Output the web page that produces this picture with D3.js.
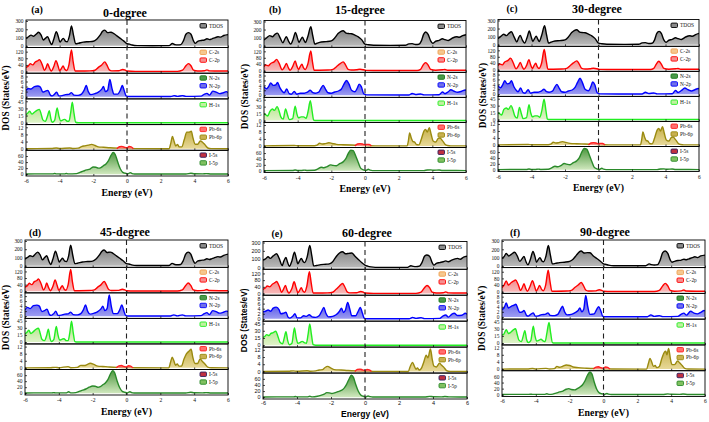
<!DOCTYPE html>
<html><head><meta charset="utf-8">
<script src="https://cdn.jsdelivr.net/npm/d3@7"></script>
<style>body{margin:0;background:#fff}svg{display:block}</style>
</head><body><svg id="c" width="709" height="422"></svg>
<script>
// ---------------- DATA (energy eV, DOS) ----------------
const panelTitles = ["0-degree","15-degree","30-degree","45-degree","60-degree","90-degree"];
const panelLetters = ["(a)","(b)","(c)","(d)","(e)","(f)"];
const energyTicks = [-6,-4,-2,0,2,4,6];
const tdosTicks = [0,100,200,300];
const cTicks = [0,40,80,120];
const nTicks = [0,2,4,6,8];
const hTicks = [0,15,30,45];
const pbTicks = [0,4,8,12];
const iTicks = [0,20,40,60];
const legendTDOS = ["TDOS"];
const legendC = ["C-2s","C-2p"];
const legendN = ["N-2s","N-2p"];
const legendH = ["H-1s"];
const legendPb = ["Pb-6s","Pb-6p"];
const legendI = ["I-5s","I-5p"];

// (a) 0-degree
const tdos_a = [[-6,90],[-5.85,110],[-5.7,130],[-5.55,115],[-5.4,140],[-5.25,165],[-5.1,130],[-4.97,70],[-4.85,90],[-4.72,110],[-4.58,50],[-4.48,15],[-4.35,80],[-4.2,170],[-4.08,110],[-3.98,45],[-3.88,70],[-3.78,90],[-3.65,55],[-3.55,50],[-3.42,120],[-3.3,240],[-3.18,130],[-3.05,25],[-2.9,30],[-2.6,45],[-2.3,50],[-2.0,55],[-1.8,80],[-1.6,130],[-1.45,175],[-1.32,190],[-1.15,160],[-0.95,165],[-0.8,150],[-0.6,120],[-0.4,90],[-0.2,60],[0,25],[0.15,20],[0.3,10],[0.6,3],[1.5,2],[2.5,3],[2.7,28],[2.85,15],[3.0,12],[3.2,15],[3.35,60],[3.5,140],[3.65,160],[3.8,140],[3.95,60],[4.05,30],[4.2,55],[4.4,65],[4.6,70],[4.75,85],[4.9,75],[5.05,85],[5.25,100],[5.4,110],[5.55,105],[5.75,125],[6.0,135]];
const c2p_a = [[-6,25],[-5.85,35],[-5.75,48],[-5.6,40],[-5.45,58],[-5.3,65],[-5.2,72],[-5.05,45],[-4.9,8],[-4.8,25],[-4.72,48],[-4.6,20],[-4.5,3],[-4.35,30],[-4.22,66],[-4.1,35],[-4.0,5],[-3.9,18],[-3.8,33],[-3.68,12],[-3.58,6],[-3.45,40],[-3.3,130],[-3.2,60],[-3.08,3],[-2.8,3],[-2.2,4],[-1.9,8],[-1.7,25],[-1.5,40],[-1.32,58],[-1.2,40],[-1.05,10],[-0.9,4],[-0.5,5],[-0.25,12],[-0.1,8],[0,3],[0.5,1],[3.0,1],[3.3,8],[3.5,35],[3.65,48],[3.8,35],[3.95,8],[4.2,3],[4.6,5],[4.75,10],[4.9,4],[5.5,3],[6,3]];
const n2p_a = [[-6,2.5],[-5.85,3.2],[-5.7,3],[-5.5,4],[-5.3,4.2],[-5.15,3.8],[-5.0,1.8],[-4.85,2.2],[-4.7,2.5],[-4.55,0.6],[-4.45,0.3],[-4.3,1],[-4.18,1.8],[-4.05,0.3],[-3.85,0.4],[-3.65,0.8],[-3.45,0.9],[-3.3,1.6],[-3.15,0.6],[-2.9,0.5],[-2.7,1],[-2.55,2.5],[-2.42,4.4],[-2.3,2],[-2.15,0.8],[-1.9,1.2],[-1.7,1.8],[-1.5,3],[-1.4,4],[-1.28,2],[-1.15,2.5],[-1.02,6.8],[-0.9,3.5],[-0.78,1],[-0.55,1],[-0.4,2.5],[-0.28,4.4],[-0.15,2],[-0.05,0.3],[0.1,0.05],[2.6,0.05],[2.8,0.4],[3.0,0.1],[3.3,0.4],[3.5,0.1],[4.4,0.2],[4.6,1],[4.75,1.3],[4.9,0.6],[5.1,2.2],[5.3,1.8],[5.5,1.2],[5.7,1.5],[5.9,2.0],[6,1.6]];
const h1s_a = [[-6,17],[-5.9,20],[-5.78,24],[-5.65,18],[-5.5,22],[-5.35,26],[-5.2,28],[-5.1,18],[-5.0,6],[-4.85,3],[-4.72,14],[-4.62,25],[-4.52,8],[-4.45,1],[-4.3,5],[-4.15,31],[-4.05,15],[-3.95,4],[-3.8,6],[-3.7,7],[-3.55,3],[-3.45,3],[-3.35,20],[-3.25,43],[-3.15,20],[-3.05,1],[-2.9,0],[6,0]];
const pb6p_a = [[-6,0],[-4.5,0.1],[-4.2,0.4],[-4.0,0.1],[-3.4,0.4],[-3.2,0.1],[-2.9,0.3],[-2.7,1.2],[-2.5,1.6],[-2.3,2],[-2.1,2.4],[-1.9,1.8],[-1.7,1],[-1.4,0.8],[-1.0,0.5],[-0.5,0.3],[0,0.2],[0.5,0.05],[2.5,0],[2.6,3],[2.7,6.8],[2.8,4],[2.9,1.5],[3.0,2.4],[3.1,1],[3.25,1],[3.4,5],[3.55,9.3],[3.7,9.3],[3.82,9.8],[3.92,6],[4.05,2.5],[4.2,2.5],[4.35,4.3],[4.5,3.5],[4.65,2],[4.8,0.4],[5.0,0.05],[6,0]];
const pb6s_a = [[-0.6,0],[-0.45,1.1],[-0.3,1.3],[-0.15,0.8],[0,0.5],[0.12,1.2],[0.25,1],[0.38,0]];
const i5p_a = [[-6,0.5],[-5.5,1],[-4.4,1],[-4.3,2.5],[-4.2,1],[-3.7,1],[-3.6,2.5],[-3.5,1],[-3.0,2],[-2.8,6],[-2.6,10],[-2.4,14],[-2.2,17],[-2.0,24],[-1.85,23],[-1.7,20],[-1.55,22],[-1.4,28],[-1.25,34],[-1.1,45],[-0.95,62],[-0.82,72],[-0.7,65],[-0.55,40],[-0.4,18],[-0.25,6],[-0.1,3],[0.05,1],[0.2,5],[0.3,2],[0.45,0.5],[3.5,0.5],[3.8,3],[4.0,1.5],[4.5,1],[4.7,2],[5,0.8],[6,0.5]];

// (b) 15-degree
const tdos_b = [[-6,70],[-5.85,95],[-5.66,125],[-5.5,110],[-5.35,140],[-5.2,155],[-5.05,100],[-4.87,35],[-4.77,80],[-4.67,110],[-4.55,60],[-4.41,20],[-4.27,80],[-4.13,165],[-4.02,100],[-3.92,40],[-3.82,75],[-3.72,105],[-3.62,65],[-3.54,40],[-3.4,110],[-3.22,235],[-3.1,120],[-2.98,20],[-2.85,30],[-2.6,45],[-2.3,50],[-2.0,60],[-1.8,95],[-1.6,150],[-1.45,175],[-1.3,185],[-1.15,160],[-0.95,150],[-0.8,148],[-0.6,130],[-0.4,110],[-0.2,75],[0,20],[0.2,12],[0.5,6],[1.5,4],[2.4,5],[2.6,22],[2.8,25],[3.0,15],[3.2,18],[3.35,60],[3.48,140],[3.6,170],[3.75,140],[3.9,60],[4.02,30],[4.2,55],[4.4,65],[4.6,85],[4.75,75],[4.95,65],[5.2,95],[5.45,110],[5.6,105],[5.8,125],[6,135]];
const c2p_b = [[-6,25],[-5.9,35],[-5.75,30],[-5.6,45],[-5.4,55],[-5.25,70],[-5.1,45],[-4.92,5],[-4.8,20],[-4.67,45],[-4.55,18],[-4.45,3],[-4.3,25],[-4.15,60],[-4.05,30],[-3.95,8],[-3.85,25],[-3.75,40],[-3.65,18],[-3.55,8],[-3.4,40],[-3.22,122],[-3.12,55],[-3.02,3],[-2.7,3],[-2.2,4],[-1.9,8],[-1.7,25],[-1.5,42],[-1.3,55],[-1.15,35],[-1.0,8],[-0.8,4],[-0.5,6],[-0.3,9],[-0.1,6],[0.05,2],[0.5,1],[3.1,1],[3.3,8],[3.45,35],[3.6,50],[3.75,35],[3.9,8],[4.2,3],[4.6,6],[4.75,8],[4.9,3],[6,3]];
const n2p_b = [[-6,3.5],[-5.85,2.6],[-5.72,3.6],[-5.6,5],[-5.45,4],[-5.3,4.2],[-5.2,5.2],[-5.05,3],[-4.9,1.5],[-4.8,1],[-4.65,2.5],[-4.5,0.6],[-4.38,0.4],[-4.2,1.5],[-4.05,0.4],[-3.85,0.8],[-3.6,0.8],[-3.45,1.1],[-3.25,2],[-3.1,1],[-2.95,0.8],[-2.75,1.2],[-2.6,3],[-2.48,4],[-2.35,2.5],[-2.2,1],[-2.0,0.8],[-1.8,1.3],[-1.55,1.8],[-1.4,2.5],[-1.25,4.5],[-1.1,6],[-0.95,4.5],[-0.8,2],[-0.6,1.4],[-0.45,3],[-0.35,4.5],[-0.22,3.5],[-0.08,0.6],[0.1,0.1],[2.6,0.05],[2.8,0.7],[3.0,0.3],[3.3,0.5],[3.5,0.1],[4.4,0.2],[4.6,1.3],[4.75,0.6],[4.95,1.4],[5.1,2.2],[5.3,1.6],[5.5,1.2],[5.75,1.6],[5.95,2.1],[6,2]];
const h1s_b = [[-6,15],[-5.88,12],[-5.78,10],[-5.65,20],[-5.5,25],[-5.38,22],[-5.22,30],[-5.1,20],[-5.0,8],[-4.86,3],[-4.72,25],[-4.6,12],[-4.5,2],[-4.3,4],[-4.15,31],[-4.05,15],[-3.95,6],[-3.8,8],[-3.65,8],[-3.5,5],[-3.38,20],[-3.25,43],[-3.14,20],[-3.05,1],[-2.9,0],[6,0]];
const pb6p_b = [[-6,0],[-4.2,0.2],[-4.0,0.05],[-3.0,0.1],[-2.85,0.4],[-2.7,1.5],[-2.55,1.1],[-2.4,1.2],[-2.15,1.8],[-1.95,1.4],[-1.7,0.9],[-1.3,0.7],[-0.8,0.5],[-0.3,0.3],[0.2,0.1],[0.6,0],[2.5,0],[2.58,3],[2.65,7.5],[2.75,4.5],[2.85,2.5],[2.95,2.2],[3.05,0.8],[3.2,0.6],[3.35,4],[3.5,8.5],[3.6,9.5],[3.7,8],[3.82,10.5],[3.92,7],[4.05,2.8],[4.2,2.2],[4.35,4.3],[4.45,4.5],[4.6,3],[4.75,1],[4.9,0.2],[5.1,0],[6,0]];
const pb6s_b = [[-0.6,0],[-0.45,1.1],[-0.3,1.3],[-0.15,1.1],[0,0.7],[0.12,0.9],[0.25,0.8],[0.38,0]];
const i5p_b = [[-6,0.5],[-4.3,1],[-4.15,2.5],[-4.0,1],[-3.75,1],[-3.6,2],[-3.45,1],[-3.0,1.5],[-2.8,6],[-2.6,12],[-2.45,10],[-2.25,14],[-2.05,20],[-1.9,18],[-1.7,17],[-1.5,24],[-1.3,30],[-1.15,40],[-1.0,58],[-0.85,70],[-0.7,68],[-0.55,50],[-0.4,28],[-0.25,8],[-0.1,3],[0.05,1],[0.2,5],[0.3,2],[0.45,0.5],[3.5,0.5],[3.7,2.5],[3.9,3],[4.1,1.5],[4.4,2.5],[4.6,1],[6,0.5]];

// (c) 30-degree
const tdos_c = [[-6,75],[-5.85,100],[-5.66,130],[-5.5,112],[-5.35,140],[-5.2,160],[-5.05,100],[-4.87,35],[-4.77,85],[-4.67,115],[-4.55,60],[-4.41,20],[-4.27,85],[-4.13,170],[-4.02,100],[-3.92,40],[-3.82,75],[-3.72,105],[-3.62,65],[-3.54,40],[-3.4,110],[-3.22,235],[-3.1,120],[-2.98,20],[-2.85,30],[-2.6,45],[-2.3,50],[-2.0,60],[-1.8,95],[-1.6,150],[-1.45,175],[-1.3,185],[-1.15,160],[-0.95,150],[-0.8,148],[-0.6,130],[-0.4,110],[-0.2,75],[0,20],[0.2,12],[0.5,6],[1.5,4],[2.4,5],[2.6,22],[2.8,25],[3.0,15],[3.2,18],[3.35,60],[3.48,140],[3.62,165],[3.75,140],[3.9,60],[4.02,30],[4.2,55],[4.4,65],[4.6,85],[4.75,75],[4.95,65],[5.2,95],[5.45,110],[5.6,105],[5.8,125],[6,140]];
const c2p_c = [[-6,25],[-5.9,35],[-5.75,30],[-5.6,48],[-5.4,58],[-5.25,72],[-5.1,45],[-4.92,5],[-4.8,20],[-4.67,45],[-4.55,18],[-4.45,3],[-4.3,25],[-4.15,62],[-4.05,30],[-3.95,8],[-3.85,25],[-3.75,40],[-3.65,18],[-3.55,8],[-3.4,40],[-3.24,125],[-3.12,55],[-3.02,3],[-2.7,3],[-2.2,4],[-1.9,8],[-1.7,25],[-1.5,42],[-1.3,55],[-1.15,35],[-1.0,8],[-0.8,4],[-0.5,6],[-0.3,9],[-0.1,6],[0.05,2],[0.5,1],[3.1,1],[3.3,8],[3.45,35],[3.6,52],[3.75,35],[3.9,8],[4.2,3],[4.6,6],[4.75,8],[4.9,3],[6,3]];
const n2p_c = [[-6,3.5],[-5.85,2.6],[-5.72,3.8],[-5.6,5.5],[-5.45,4.2],[-5.3,4.5],[-5.2,5.5],[-5.05,3],[-4.9,1.5],[-4.8,1],[-4.65,2.5],[-4.5,0.6],[-4.38,0.4],[-4.2,1.8],[-4.05,0.4],[-3.85,0.8],[-3.6,0.8],[-3.45,1.1],[-3.25,2],[-3.1,1],[-2.95,0.8],[-2.75,1.2],[-2.6,3],[-2.48,4],[-2.35,2.5],[-2.2,1],[-2.0,0.8],[-1.8,1.3],[-1.55,1.8],[-1.4,2.8],[-1.25,4.8],[-1.1,6.5],[-0.95,4.5],[-0.8,2],[-0.6,1.4],[-0.45,3.2],[-0.35,5],[-0.22,3.8],[-0.08,0.6],[0.1,0.1],[2.6,0.05],[2.8,0.8],[3.0,0.3],[3.3,0.5],[3.5,0.1],[4.4,0.2],[4.6,1.5],[4.75,0.7],[4.95,1.5],[5.15,2.5],[5.35,1.8],[5.55,1.3],[5.75,1.8],[5.95,2.3],[6,2.2]];
const h1s_c = [[-6,15],[-5.88,12],[-5.78,10],[-5.65,22],[-5.5,25],[-5.38,22],[-5.22,30],[-5.1,20],[-5.0,8],[-4.86,3],[-4.72,26],[-4.6,12],[-4.5,2],[-4.3,4],[-4.15,32],[-4.05,15],[-3.95,6],[-3.8,8],[-3.65,8],[-3.5,5],[-3.38,20],[-3.25,44],[-3.14,20],[-3.05,1],[-2.9,0],[6,0]];
const pb6p_c = [[-6,0],[-4.2,0.2],[-4.0,0.05],[-3.0,0.1],[-2.85,0.4],[-2.7,1.5],[-2.55,1.1],[-2.4,1.2],[-2.15,1.9],[-1.95,1.4],[-1.7,0.9],[-1.3,0.7],[-0.8,0.5],[-0.3,0.3],[0.2,0.1],[0.6,0],[2.5,0],[2.58,3],[2.65,7.5],[2.75,4.5],[2.85,2.5],[2.95,2.2],[3.05,0.8],[3.2,0.6],[3.35,4],[3.5,8.5],[3.6,9.5],[3.7,8],[3.82,10.5],[3.92,7],[4.05,2.8],[4.2,2.2],[4.35,4.3],[4.45,4.5],[4.6,3],[4.75,1],[4.9,0.2],[5.1,0],[6,0]];
const pb6s_c = [[-0.6,0],[-0.45,1.1],[-0.3,1.3],[-0.15,1.1],[0,0.7],[0.12,0.9],[0.25,0.8],[0.38,0]];
const i5p_c = [[-6,0.5],[-4.3,1],[-4.15,2.5],[-4.0,1],[-3.75,1],[-3.6,2],[-3.45,1],[-3.0,1.5],[-2.8,6],[-2.6,12],[-2.45,10],[-2.25,14],[-2.05,21],[-1.9,19],[-1.7,17],[-1.5,24],[-1.3,30],[-1.15,40],[-1.0,60],[-0.85,72],[-0.7,70],[-0.55,50],[-0.4,28],[-0.25,8],[-0.1,3],[0.05,1],[0.2,5],[0.3,2],[0.45,0.5],[3.5,0.5],[3.7,2.5],[3.9,3],[4.1,1.5],[4.4,2.5],[4.6,1],[6,0.5]];

// (d) 45-degree
const tdos_d = [[-6,80],[-5.85,100],[-5.7,120],[-5.55,110],[-5.4,140],[-5.25,165],[-5.1,130],[-4.97,70],[-4.85,95],[-4.72,120],[-4.58,50],[-4.48,15],[-4.35,80],[-4.2,175],[-4.08,110],[-3.98,45],[-3.88,70],[-3.78,90],[-3.65,55],[-3.55,50],[-3.42,120],[-3.3,250],[-3.18,130],[-3.05,25],[-2.9,30],[-2.6,45],[-2.3,50],[-2.0,55],[-1.8,80],[-1.6,130],[-1.45,175],[-1.32,190],[-1.15,160],[-0.95,165],[-0.8,150],[-0.6,120],[-0.4,90],[-0.2,60],[0,25],[0.15,20],[0.3,10],[0.6,3],[1.5,2],[2.5,3],[2.7,28],[2.85,15],[3.0,12],[3.2,15],[3.35,60],[3.5,140],[3.65,165],[3.8,140],[3.95,60],[4.05,30],[4.2,55],[4.4,65],[4.6,70],[4.75,85],[4.9,75],[5.05,85],[5.25,100],[5.4,110],[5.55,105],[5.75,125],[6.0,140]];
const c2p_d = [[-6,25],[-5.85,35],[-5.75,48],[-5.6,40],[-5.45,58],[-5.3,65],[-5.2,75],[-5.05,45],[-4.9,8],[-4.8,25],[-4.72,50],[-4.6,20],[-4.5,3],[-4.35,30],[-4.22,68],[-4.1,35],[-4.0,5],[-3.9,18],[-3.8,33],[-3.68,12],[-3.58,6],[-3.45,40],[-3.3,132],[-3.2,60],[-3.08,3],[-2.8,3],[-2.2,4],[-1.9,8],[-1.7,25],[-1.5,40],[-1.32,60],[-1.2,40],[-1.05,10],[-0.9,4],[-0.5,5],[-0.25,12],[-0.1,8],[0,3],[0.5,1],[3.0,1],[3.3,8],[3.5,35],[3.65,50],[3.8,35],[3.95,8],[4.2,3],[4.6,5],[4.75,10],[4.9,4],[5.5,3],[6,3]];
const n2p_d = [[-6,2.5],[-5.85,3.5],[-5.7,3],[-5.5,4.2],[-5.3,4.4],[-5.15,4],[-5.0,1.8],[-4.85,2.2],[-4.7,2.8],[-4.55,0.6],[-4.45,0.3],[-4.3,1],[-4.18,2],[-4.05,0.3],[-3.85,0.4],[-3.65,0.8],[-3.45,0.9],[-3.3,1.6],[-3.15,0.6],[-2.9,0.5],[-2.7,1],[-2.55,2.5],[-2.42,4.5],[-2.3,2],[-2.15,0.8],[-1.9,1.2],[-1.7,1.8],[-1.5,3],[-1.4,4],[-1.28,2.2],[-1.15,3],[-1.02,8.5],[-0.9,4],[-0.78,1],[-0.55,1],[-0.4,2.5],[-0.28,4.5],[-0.15,2],[-0.05,0.3],[0.1,0.05],[2.6,0.05],[2.8,0.5],[3.0,0.1],[3.3,0.5],[3.5,0.1],[4.4,0.2],[4.6,1],[4.75,1.4],[4.9,0.6],[5.1,2.2],[5.3,1.8],[5.5,1.2],[5.7,1.5],[5.9,2.0],[6,1.8]];
const h1s_d = [[-6,17],[-5.9,20],[-5.78,25],[-5.65,18],[-5.5,22],[-5.35,27],[-5.2,29],[-5.1,18],[-5.0,6],[-4.85,3],[-4.72,14],[-4.62,27],[-4.52,8],[-4.45,1],[-4.3,5],[-4.15,33],[-4.05,15],[-3.95,4],[-3.8,6],[-3.7,7],[-3.55,3],[-3.45,3],[-3.35,20],[-3.25,44],[-3.15,20],[-3.05,1],[-2.9,0],[6,0]];
const pb6p_d = [[-6,0],[-4.5,0.1],[-4.2,0.3],[-4.0,0.1],[-3.45,0.7],[-3.3,0.1],[-2.9,0.3],[-2.7,1.4],[-2.5,1.3],[-2.3,2],[-2.15,2.6],[-1.9,1.8],[-1.7,1],[-1.4,0.8],[-1.0,0.5],[-0.5,0.3],[0,0.2],[0.5,0.05],[2.5,0],[2.6,3],[2.7,6],[2.8,4],[2.9,1.5],[3.0,2.2],[3.1,1],[3.25,1],[3.4,5],[3.55,8],[3.7,9.5],[3.82,10.5],[3.92,6],[4.05,2.5],[4.2,2.5],[4.35,5],[4.5,3.5],[4.65,2],[4.8,0.4],[5.0,0.05],[6,0]];
const pb6s_d = [[-0.6,0],[-0.45,1.1],[-0.3,1.3],[-0.15,0.8],[0,0.5],[0.12,1.2],[0.25,1],[0.38,0]];
const i5p_d = [[-6,0.5],[-5.5,1],[-4.4,1],[-4.3,2],[-4.2,1],[-3.55,1],[-3.42,5],[-3.3,1],[-3.0,2],[-2.8,6],[-2.6,10],[-2.4,14],[-2.2,20],[-2.0,24],[-1.85,23],[-1.7,20],[-1.55,22],[-1.4,28],[-1.25,34],[-1.1,45],[-0.95,64],[-0.82,75],[-0.7,68],[-0.55,40],[-0.4,18],[-0.25,6],[-0.1,3],[0.05,1],[0.2,5],[0.3,2],[0.45,0.5],[3.5,0.5],[3.8,3],[4.0,1.5],[4.5,1],[4.7,2],[5,0.8],[6,0.5]];

// (e) 60-degree
const tdos_e = [[-6,90],[-5.85,105],[-5.7,130],[-5.58,110],[-5.4,140],[-5.2,165],[-5.05,110],[-4.87,25],[-4.77,80],[-4.65,120],[-4.55,60],[-4.45,15],[-4.3,80],[-4.15,185],[-4.04,110],[-3.95,45],[-3.85,80],[-3.75,110],[-3.63,70],[-3.55,60],[-3.4,130],[-3.25,265],[-3.12,130],[-3.02,20],[-2.85,25],[-2.6,35],[-2.3,40],[-2.1,45],[-1.9,70],[-1.7,130],[-1.5,175],[-1.32,190],[-1.15,165],[-0.95,170],[-0.78,175],[-0.6,140],[-0.4,100],[-0.2,60],[0,30],[0.15,18],[0.35,8],[0.6,3],[1.5,2],[2.5,3],[2.7,22],[2.85,15],[3.0,12],[3.2,18],[3.35,60],[3.5,135],[3.62,150],[3.8,135],[3.95,60],[4.05,30],[4.2,50],[4.4,60],[4.6,70],[4.75,80],[4.9,70],[5.1,90],[5.3,105],[5.45,110],[5.6,100],[5.8,125],[6,135]];
const c2p_e = [[-6,25],[-5.85,35],[-5.75,45],[-5.6,40],[-5.45,55],[-5.3,65],[-5.2,72],[-5.05,45],[-4.9,8],[-4.8,25],[-4.68,48],[-4.58,20],[-4.48,3],[-4.3,30],[-4.17,70],[-4.05,35],[-3.95,5],[-3.85,18],[-3.75,35],[-3.65,15],[-3.55,8],[-3.42,45],[-3.27,130],[-3.16,60],[-3.05,3],[-2.8,3],[-2.2,4],[-1.9,8],[-1.7,25],[-1.5,45],[-1.32,60],[-1.2,42],[-1.05,10],[-0.9,4],[-0.5,5],[-0.25,12],[-0.1,8],[0,3],[0.5,1],[3.0,1],[3.3,8],[3.5,35],[3.65,48],[3.8,35],[3.95,8],[4.2,3],[4.6,5],[4.75,10],[4.9,4],[5.5,3],[6,3]];
const n2p_e = [[-6,2.8],[-5.85,3],[-5.7,3.5],[-5.55,3],[-5.4,4.2],[-5.22,4.6],[-5.05,3.5],[-4.95,2],[-4.8,2.2],[-4.65,2.6],[-4.52,0.6],[-4.42,0.3],[-4.25,1],[-4.12,2],[-4.0,0.4],[-3.8,0.4],[-3.6,1.2],[-3.45,1],[-3.28,1.6],[-3.12,0.8],[-2.9,0.6],[-2.7,1.2],[-2.55,3],[-2.42,4.5],[-2.3,2.2],[-2.15,0.8],[-1.9,1],[-1.7,1.6],[-1.5,3],[-1.38,4.2],[-1.26,2.5],[-1.15,3.5],[-1.02,6.5],[-0.9,4],[-0.78,1.2],[-0.55,1.2],[-0.4,3],[-0.28,4.5],[-0.15,2.2],[-0.05,0.3],[0.1,0.05],[2.6,0.05],[2.8,0.6],[3.0,0.2],[3.3,0.5],[3.5,0.1],[4.4,0.2],[4.6,1.2],[4.75,1.5],[4.9,0.7],[5.1,1.8],[5.25,2.2],[5.45,1.3],[5.7,1.4],[5.9,2.2],[6,1.8]];
const h1s_e = [[-6,16],[-5.9,18],[-5.78,22],[-5.65,20],[-5.55,24],[-5.4,26],[-5.25,29],[-5.12,18],[-5.0,6],[-4.85,3],[-4.75,15],[-4.65,28],[-4.55,10],[-4.45,1],[-4.3,4],[-4.15,36],[-4.05,16],[-3.95,4],[-3.8,6],[-3.7,8],[-3.55,5],[-3.45,4],[-3.35,22],[-3.25,44],[-3.15,22],[-3.05,1],[-2.9,0],[6,0]];
const pb6p_e = [[-6,0],[-4.5,0.1],[-4.2,0.3],[-4.0,0.1],[-3.4,0.4],[-3.2,0.1],[-2.9,0.3],[-2.7,0.8],[-2.5,1],[-2.35,2.2],[-2.2,2.8],[-2.0,1.8],[-1.8,1],[-1.4,0.8],[-1.0,0.5],[-0.5,0.3],[0,0.2],[0.5,0.05],[2.55,0],[2.65,2.5],[2.8,5],[2.9,3],[3.0,1.2],[3.08,2],[3.18,0.8],[3.3,1.5],[3.45,5],[3.6,9],[3.7,7.5],[3.85,12.5],[3.95,7],[4.05,3],[4.2,2.5],[4.38,4.5],[4.5,3.5],[4.62,2.5],[4.8,0.5],[5.0,0.05],[6,0]];
const pb6s_e = [[-0.6,0],[-0.45,1.1],[-0.3,1.3],[-0.15,0.9],[0,0.5],[0.12,1.1],[0.25,0.9],[0.38,0]];
const i5p_e = [[-6,0.5],[-5.2,1],[-4.2,1],[-4.1,2],[-4.0,1],[-3.4,1],[-3.25,3],[-3.1,1],[-2.8,3],[-2.6,6],[-2.4,10],[-2.25,15],[-2.1,14],[-1.95,12],[-1.8,14],[-1.6,18],[-1.4,22],[-1.25,28],[-1.1,40],[-0.95,58],[-0.8,72],[-0.68,65],[-0.55,42],[-0.4,20],[-0.25,7],[-0.1,3],[0.05,1],[0.18,4],[0.3,2],[0.45,0.5],[3.5,0.5],[3.8,2.5],[4.0,1.5],[4.5,1],[4.7,2],[5,0.8],[6,0.5]];

// (f) 90-degree
const tdos_f = [[-6,90],[-5.88,110],[-5.75,150],[-5.6,120],[-5.45,140],[-5.25,165],[-5.1,120],[-4.95,55],[-4.82,85],[-4.7,115],[-4.58,50],[-4.47,15],[-4.32,80],[-4.17,175],[-4.05,110],[-3.96,45],[-3.86,75],[-3.76,100],[-3.64,60],[-3.54,50],[-3.4,120],[-3.26,245],[-3.14,130],[-3.02,25],[-2.85,30],[-2.6,40],[-2.3,45],[-2.0,55],[-1.8,80],[-1.6,130],[-1.45,165],[-1.32,180],[-1.15,155],[-0.95,160],[-0.8,158],[-0.6,120],[-0.4,90],[-0.2,60],[0,25],[0.15,18],[0.3,10],[0.6,3],[1.5,2],[2.5,3],[2.7,25],[2.85,15],[3.0,12],[3.2,15],[3.35,70],[3.5,160],[3.65,180],[3.8,150],[3.95,70],[4.05,45],[4.2,55],[4.4,65],[4.6,70],[4.75,80],[4.9,75],[5.05,85],[5.25,100],[5.4,110],[5.55,100],[5.75,120],[6.0,130]];
const c2p_f = [[-6,25],[-5.88,40],[-5.75,65],[-5.62,40],[-5.45,55],[-5.3,65],[-5.2,70],[-5.05,45],[-4.9,8],[-4.8,25],[-4.7,48],[-4.6,20],[-4.5,3],[-4.35,30],[-4.2,66],[-4.08,35],[-3.98,5],[-3.88,18],[-3.78,38],[-3.66,14],[-3.56,6],[-3.42,40],[-3.27,130],[-3.16,60],[-3.05,3],[-2.8,3],[-2.2,4],[-1.9,8],[-1.7,25],[-1.5,40],[-1.32,55],[-1.2,40],[-1.05,10],[-0.9,4],[-0.5,5],[-0.25,12],[-0.1,8],[0,3],[0.5,1],[3.0,1],[3.3,8],[3.5,35],[3.65,50],[3.8,35],[3.95,8],[4.2,3],[4.6,5],[4.75,10],[4.9,4],[5.5,3],[6,3]];
const n2p_f = [[-6,3],[-5.88,3.5],[-5.75,5.5],[-5.62,3.5],[-5.45,4.2],[-5.3,4.6],[-5.18,5],[-5.05,3],[-4.95,1.8],[-4.8,2],[-4.7,2.5],[-4.55,0.6],[-4.45,0.3],[-4.3,1],[-4.15,1.6],[-4.03,0.3],[-3.85,0.4],[-3.65,0.9],[-3.45,1],[-3.28,1.6],[-3.15,0.6],[-2.9,0.5],[-2.7,1],[-2.55,2.8],[-2.42,4.2],[-2.3,2],[-2.15,0.8],[-1.9,1],[-1.7,1.6],[-1.5,2.5],[-1.4,3.5],[-1.28,2],[-1.17,3],[-1.05,8.5],[-0.93,4],[-0.8,1],[-0.55,1.2],[-0.4,3],[-0.28,4],[-0.15,2.2],[-0.05,0.3],[0.1,0.05],[2.6,0.05],[2.8,0.8],[3.0,0.2],[3.3,0.5],[3.5,0.1],[4.4,0.2],[4.6,1.1],[4.75,1.5],[4.9,0.7],[5.15,2.2],[5.35,1.5],[5.55,1.2],[5.75,1.8],[5.95,2.5],[6,2.3]];
const h1s_f = [[-6,17],[-5.9,18],[-5.75,28],[-5.62,20],[-5.5,22],[-5.35,27],[-5.2,30],[-5.1,18],[-5.0,6],[-4.85,3],[-4.75,14],[-4.65,26],[-4.55,8],[-4.45,1],[-4.3,5],[-4.15,35],[-4.05,15],[-3.95,4],[-3.8,6],[-3.7,8],[-3.55,4],[-3.45,3],[-3.35,20],[-3.22,43],[-3.12,20],[-3.02,1],[-2.9,0],[6,0]];
const pb6p_f = [[-6,0],[-4.5,0.1],[-4.2,0.3],[-4.0,0.1],[-3.4,0.4],[-3.2,0.1],[-2.9,0.3],[-2.75,1.5],[-2.6,1],[-2.4,1.6],[-2.2,2.3],[-2.0,2],[-1.8,1.2],[-1.5,0.8],[-1.0,0.5],[-0.5,0.3],[0,0.2],[0.5,0.05],[2.55,0],[2.65,3],[2.75,6],[2.85,4],[2.95,1.5],[3.05,2],[3.15,0.8],[3.3,1.5],[3.45,6],[3.6,9.5],[3.68,10],[3.75,8],[3.85,11.5],[3.95,6],[4.05,2.5],[4.2,2.5],[4.38,4.5],[4.5,3.5],[4.65,2],[4.8,0.4],[5.0,0.05],[6,0]];
const pb6s_f = [[-0.6,0],[-0.45,1.1],[-0.3,1.3],[-0.15,0.8],[0,0.5],[0.12,1.2],[0.25,1],[0.38,0]];
const i5p_f = [[-6,0.5],[-5.5,1],[-4.4,1],[-4.3,1.5],[-4.2,1],[-3.5,1],[-3.35,3],[-3.2,1],[-3.0,2],[-2.8,5],[-2.6,9],[-2.4,12],[-2.2,18],[-2.05,20],[-1.9,17],[-1.7,16],[-1.55,20],[-1.4,25],[-1.25,32],[-1.1,45],[-0.95,64],[-0.8,75],[-0.68,68],[-0.55,42],[-0.4,18],[-0.25,6],[-0.1,3],[0.05,1],[0.2,4],[0.3,2],[0.45,0.5],[3.5,0.5],[3.8,2.5],[4.0,1.5],[4.5,1],[4.7,2],[5,0.8],[6,0.5]];

// ---------------- assembly ----------------
const panels = [
  {tdos:tdos_a,c:c2p_a,n:n2p_a,h:h1s_a,pb:pb6p_a,pbs:pb6s_a,i:i5p_a},
  {tdos:tdos_b,c:c2p_b,n:n2p_b,h:h1s_b,pb:pb6p_b,pbs:pb6s_b,i:i5p_b},
  {tdos:tdos_c,c:c2p_c,n:n2p_c,h:h1s_c,pb:pb6p_c,pbs:pb6s_c,i:i5p_c},
  {tdos:tdos_d,c:c2p_d,n:n2p_d,h:h1s_d,pb:pb6p_d,pbs:pb6s_d,i:i5p_d},
  {tdos:tdos_e,c:c2p_e,n:n2p_e,h:h1s_e,pb:pb6p_e,pbs:pb6s_e,i:i5p_e},
  {tdos:tdos_f,c:c2p_f,n:n2p_f,h:h1s_f,pb:pb6p_f,pbs:pb6s_f,i:i5p_f}
];

// styles / layout
const subs = [
 {key:"tdos", dom:[-20,312], ticks:tdosTicks, line:"#000", g:["#6a6a6a","#b4b4b4"], leg:legendTDOS, lc:[["#000","#8a8a8a"]]},
 {key:"c", dom:[-10,145], ticks:cTicks, line:"#ff0000", g:["#ee5a5a","#f8b4b4"], leg:legendC, lc:[["#f0a050","#f5c890"],["#ff0000","#f59090"]]},
 {key:"n", dom:[-0.9,9.3], ticks:nTicks, line:"#0000ff", g:["#3a3ae4","#9494f0"], leg:legendN, lc:[["#1a7a1a","#4a9a4a"],["#0000ff","#7070e8"]]},
 {key:"h", dom:[-4,50], ticks:hTicks, line:"#22ee22", g:["#a4de74","#dcf2c4"], leg:legendH, lc:[["#22ee22","#c0f0a0"]]},
 {key:"pb", dom:[-0.9,13.5], ticks:pbTicks, line:"#9a8a10", g:["#c0a838","#e6d690"], leg:legendPb, lc:[["#ff2020","#ff7070"],["#9a8a10","#c8b050"]]},
 {key:"i", dom:[-6,79], ticks:iTicks, line:"#2a8a2a", g:["#3f8f30","#cce6b8"], leg:legendI, lc:[["#302060","#c03040"],["#2a8a2a","#80c060"]]}
];
const layout = [
 {L:26,R:228,T:20,B:176, tx:125,ty:13, lx:37,ly:9, yl:6, xt:183.5, xl:193},
 {L:264,R:466,T:20.5,B:172.5, tx:360,ty:10, lx:275,ly:9.5, yl:245, xt:180.5, xl:189},
 {L:498,R:699,T:19.5,B:171.5, tx:597,ty:8.5, lx:512,ly:8.5, yl:483, xt:179, xl:188},
 {L:25,R:228,T:240,B:395, tx:125,ty:232, lx:35,ly:232, yl:6, xt:402.5, xl:412},
 {L:263,R:467,T:241.5,B:399, tx:367,ty:233, lx:277,ly:233, yl:244, xt:405, xl:414, sans:true},
 {L:502,R:705,T:240,B:396.5, tx:605,ty:232, lx:515,ly:232, yl:482, xt:403.5, xl:412.5}
];
const SERIF = "'Liberation Serif','Times New Roman',serif";
const SANS = "'Liberation Sans',Arial,sans-serif";

const svg = d3.select("#c");
const defs = svg.append("defs");
subs.forEach(s=>{
  const lg = defs.append("linearGradient").attr("id","g-"+s.key).attr("x1",0).attr("y1",0).attr("x2",0).attr("y2",1);
  lg.append("stop").attr("offset","0%").attr("stop-color",s.g[0]);
  lg.append("stop").attr("offset","100%").attr("stop-color",s.g[1]);
});
{
  const lg = defs.append("linearGradient").attr("id","g-pbs").attr("x1",0).attr("y1",0).attr("x2",0).attr("y2",1);
  lg.append("stop").attr("offset","0%").attr("stop-color","#ff4040");
  lg.append("stop").attr("offset","100%").attr("stop-color","#ffa0a0");
}

const weights = [1.07,1,1,1,1,1];
layout.forEach((Lp, pi) => {
  const P = panels[pi];
  const g = svg.append("g");
  const x = d3.scaleLinear().domain([-6,6]).range([Lp.L, Lp.R]);
  const tot = d3.sum(weights);
  let yy = Lp.T; const bands = [];
  weights.forEach(v => { const h = (Lp.B-Lp.T)*v/tot; bands.push([yy, yy+h]); yy += h; });
  const tickFont = Lp.sans ? SANS : SERIF;

  subs.forEach((s, si) => {
    const [b0,b1] = bands[si];
    const y = d3.scaleLinear().domain(s.dom).range([b1,b0]);
    const sg = g.append("g");
    const clipId = `clip-${pi}-${si}`;
    defs.append("clipPath").attr("id",clipId).append("rect").attr("x",Lp.L).attr("y",b0).attr("width",Lp.R-Lp.L).attr("height",b1-b0);
    const series = [{d:P[s.key], line:s.line, fill:`url(#g-${s.key})`}];
    if (s.key==="pb") series.push({d:P.pbs, line:"#ff2020", fill:"url(#g-pbs)"});
    const area = d3.area().x(d=>x(d[0])).y0(y(0)).y1(d=>y(d[1])).curve(d3.curveMonotoneX);
    const line = d3.line().x(d=>x(d[0])).y(d=>y(d[1])).curve(d3.curveMonotoneX);
    const cg = sg.append("g").attr("clip-path",`url(#${clipId})`);
    series.forEach(se=>{
      cg.append("path").attr("d",area(se.d)).attr("fill",se.fill).attr("opacity",0.92);
      cg.append("path").attr("d",line(se.d)).attr("fill","none").attr("stroke",se.line).attr("stroke-width",1.4).attr("stroke-linejoin","round");
    });
    // y axis
    const ya = sg.append("g").attr("transform",`translate(${Lp.L},0)`)
      .call(d3.axisLeft(y).tickValues(s.ticks).tickSize(-2).tickPadding(2.5).tickFormat(d=>String(d)));
    ya.select(".domain").remove();
    ya.selectAll("line").attr("stroke","#000").attr("stroke-width",0.7);
    ya.selectAll("text").attr("font-family",tickFont).attr("font-size",5.4).attr("fill","#111");
    // x ticks on bottom of band
    const last = si===subs.length-1;
    const xa = sg.append("g").attr("transform",`translate(0,${b1})`)
      .call(d3.axisBottom(x).tickValues(energyTicks).tickSize(-2).tickPadding(4).tickFormat(d=> last? String(d):""));
    xa.select(".domain").remove();
    xa.selectAll("line").attr("stroke","#000").attr("stroke-width",0.7);
    xa.selectAll("text").attr("font-family",tickFont).attr("font-size",5.6).attr("fill","#111")
      .attr("transform",`translate(0,${Lp.xt-b1-8})`);
    // frame
    sg.append("rect").attr("x",Lp.L).attr("y",b0).attr("width",Lp.R-Lp.L).attr("height",b1-b0)
      .attr("fill","none").attr("stroke","#000").attr("stroke-width",0.9);
    // legend
    const n = s.leg.length;
    s.leg.forEach((lab, k) => {
      const cy = n===1 ? b0+5.8 : b0+4.8+k*7.8;
      sg.append("rect").attr("x",Lp.R-28).attr("y",cy-2.2).attr("width",6.5).attr("height",4.4).attr("rx",1)
        .attr("fill",s.lc[k][1]).attr("stroke",s.lc[k][0]).attr("stroke-width",0.9);
      sg.append("text").attr("x",Lp.R-19).attr("y",cy).attr("dy","0.35em")
        .attr("font-family",SERIF).attr("font-size",5.4).attr("fill","#111").text(lab);
    });
  });
  // Fermi level dashed line
  g.append("line").attr("x1",x(0)).attr("x2",x(0)).attr("y1",Lp.T).attr("y2",Lp.B)
    .attr("stroke","#222").attr("stroke-width",1.1).attr("stroke-dasharray","5,3.5");
  // titles
  g.append("text").attr("x",Lp.tx).attr("y",Lp.ty).attr("dy","0.35em").attr("text-anchor","middle")
    .attr("font-family",SERIF).attr("font-weight","bold").attr("font-size",12).text(panelTitles[pi]);
  g.append("text").attr("x",Lp.lx).attr("y",Lp.ly).attr("dy","0.35em").attr("text-anchor","middle")
    .attr("font-family",SERIF).attr("font-weight","bold").attr("font-size",10).text(panelLetters[pi]);
  g.append("text").attr("x",(Lp.L+Lp.R)/2).attr("y",Lp.xl).attr("dy","0.35em").attr("text-anchor","middle")
    .attr("font-family",Lp.sans?SANS:SERIF).attr("font-weight","bold").attr("font-size",Lp.sans?8.6:9.8).text("Energy (eV)");
  g.append("text").attr("transform",`translate(${Lp.yl},${(Lp.T+Lp.B)/2}) rotate(-90)`).attr("dy","0.35em").attr("text-anchor","middle")
    .attr("font-family",Lp.sans?SANS:SERIF).attr("font-weight","bold").attr("font-size",Lp.sans?8.4:9.4).text("DOS (States/eV)");
});
</script></body></html>
